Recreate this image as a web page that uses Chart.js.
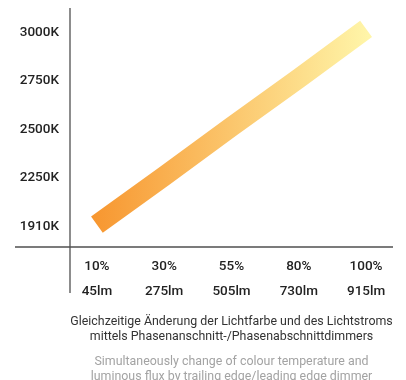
<!DOCTYPE html>
<html>
<head>
<meta charset="utf-8">
<script src="https://cdn.jsdelivr.net/npm/chart.js@4.4.1/dist/chart.umd.min.js"></script>
<style>
  html, body { margin: 0; padding: 0; background: #ffffff; }
  #wrap { width: 406px; height: 380px; }
</style>
</head>
<body>
<div id="wrap"><canvas id="c" width="406" height="380"></canvas></div>
<script>
// ---- data ----
const dimLevels   = ['10%', '30%', '55%', '80%', '100%'];
const fluxLabels  = ['45lm', '275lm', '505lm', '730lm', '915lm'];
const cctLabels   = ['1910K', '2250K', '2500K', '2750K', '3000K'];
// position of the band on the evenly spaced colour-temperature ticks (0 = 1910K ... 4 = 3000K)
const cctPosition = [0.03, 1.03, 2.05, 3.05, 4.07];
const captionDe = ['Gleichzeitige Änderung der Lichtfarbe und des Lichtstroms',
                   'mittels Phasenanschnitt-/Phasenabschnittdimmers'];
const captionEn = ['Simultaneously change of colour temperature and',
                   'luminous flux by trailing edge/leading edge dimmer'];

const points = dimLevels.map((d, i) => ({ x: i, y: cctPosition[i] }));
const FONT = 'Roboto, "Open Sans", sans-serif';

const axisLines = {
  id: 'axisLines',
  beforeDatasetsDraw(chart) {
    const { ctx, chartArea, scales } = chart;
    ctx.save();
    ctx.strokeStyle = '#505050';
    ctx.lineWidth = 1.3;
    ctx.beginPath();
    ctx.moveTo(chartArea.left, chartArea.top);
    ctx.lineTo(chartArea.left, scales.x.top + 46);
    ctx.moveTo(scales.y.left, chartArea.bottom);
    ctx.lineTo(chartArea.right, chartArea.bottom);
    ctx.stroke();
    ctx.restore();
  }
};

function bandGradient(context) {
  const chart = context.chart;
  if (!chart.chartArea) return '#F7952F';
  const xs = chart.scales.x;
  const x0 = xs.getPixelForValue(0) - 8;
  const x1 = xs.getPixelForValue(dimLevels.length - 1) + 8;
  const g = chart.ctx.createLinearGradient(x0, 0, x1, 0);
  g.addColorStop(0, '#F7952E');
  g.addColorStop(1, '#FFF7AB');
  return g;
}

new Chart(document.getElementById('c'), {
  type: 'line',
  data: {
    datasets: [{
      data: points,
      borderColor: bandGradient,
      borderWidth: 20,
      borderCapStyle: 'butt',
      borderJoinStyle: 'miter',
      pointRadius: 0,
      pointHoverRadius: 0,
      tension: 0,
      fill: false
    }]
  },
  options: {
    responsive: false,
    animation: false,
    events: [],
    layout: { padding: { top: 8, left: 15, right: 13, bottom: -4.5 } },
    plugins: {
      legend: { display: false },
      tooltip: { enabled: false },
      title: {
        display: true,
        text: captionDe,
        position: 'bottom',
        fullSize: false,
        weight: 1000,
        color: '#333333',
        font: { family: FONT, size: 12.4, weight: 400, lineHeight: '15px' },
        padding: { top: 11.5, bottom: 0 }
      },
      subtitle: {
        display: true,
        text: captionEn,
        position: 'bottom',
        fullSize: false,
        weight: 1500,
        color: '#a3a3a3',
        font: { family: FONT, size: 12.4, weight: 400, lineHeight: '15px' },
        padding: { top: 10, bottom: 0 }
      }
    },
    scales: {
      x: {
        type: 'linear',
        position: 'bottom',
        min: -0.4,
        max: 4.4,
        grid: { display: false, drawTicks: false },
        border: { display: false },
        afterBuildTicks: s => { s.ticks = dimLevels.map((d, i) => ({ value: i })); },
        afterFit: s => { s.height = 56; s.paddingLeft = 0; s.paddingRight = 0; },
        ticks: {
          autoSkip: false,
          maxRotation: 0,
          padding: 7.5,
          color: '#222222',
          font: { family: FONT, size: 13.5, weight: 500, lineHeight: '25px' },
          callback: v => [dimLevels[v], fluxLabels[v]]
        }
      },
      y: {
        type: 'linear',
        min: -0.43,
        max: 4.5,
        grid: { display: false, drawTicks: false },
        border: { display: false },
        afterBuildTicks: s => { s.ticks = cctLabels.map((l, i) => ({ value: i })); },
        afterFit: s => { s.width = 55; s.paddingTop = 0; s.paddingBottom = 0; },
        ticks: {
          padding: 11,
          color: '#222222',
          font: { family: FONT, size: 13.5, weight: 500 },
          callback: v => cctLabels[v]
        }
      }
    }
  },
  plugins: [axisLines]
});
</script>
</body>
</html>
